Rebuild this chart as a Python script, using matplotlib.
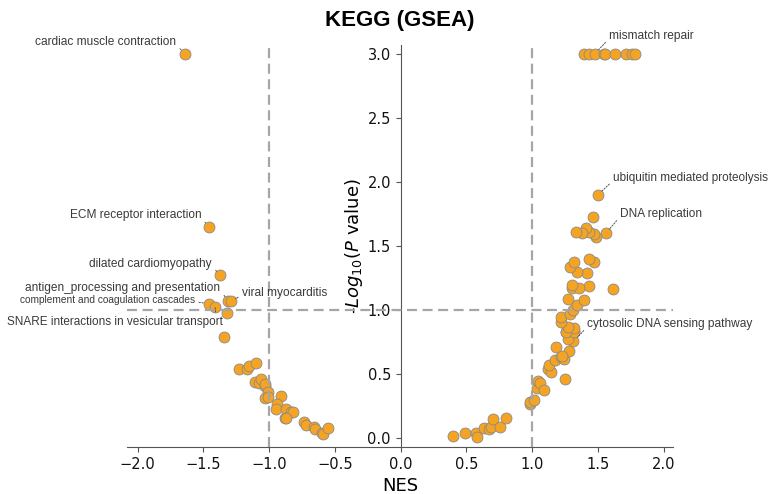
import matplotlib

matplotlib.use("Agg")
import matplotlib.pyplot as plt

# NES / -log10(p), left (negative NES) side first
neg_nes = [-1.64, -1.46, -1.37, -1.31, -1.29, -1.46, -1.41, -1.32, -1.34,
           -1.23, -1.165, -1.15, -1.10, -1.11, -1.08, -1.06, -1.035, -1.03,
           -1.01, -1.03, -1.01, -0.91, -0.94, -0.95, -0.87, -0.83, -0.82,
           -0.88, -0.87, -0.735, -0.72, -0.66, -0.65, -0.60, -0.59, -0.55]
neg_logp = [3.0, 1.65, 1.27, 1.07, 1.07, 1.05, 1.02, 0.98, 0.79,
            0.54, 0.54, 0.56, 0.59, 0.44, 0.43, 0.46, 0.41, 0.42,
            0.36, 0.31, 0.32, 0.33, 0.27, 0.23, 0.23, 0.20, 0.20,
            0.16, 0.16, 0.125, 0.10, 0.09, 0.07, 0.04, 0.03, 0.08]

pos_nes = [0.40, 0.49, 0.57, 0.58, 0.63, 0.67, 0.69, 0.70, 0.755, 0.80,
           0.98, 0.98, 1.015, 1.04, 1.045, 1.06, 1.09, 1.12, 1.145, 1.13,
           1.17, 1.22, 1.24, 1.18, 1.25, 1.28, 1.26, 1.31, 1.32, 1.23,
           1.27, 1.32, 1.26, 1.32, 1.275, 1.215, 1.215, 1.29, 1.31, 1.34,
           1.39, 1.275, 1.615, 1.43, 1.30, 1.355, 1.305, 1.42, 1.34, 1.47,
           1.43, 1.285, 1.315, 1.56, 1.485, 1.47, 1.43, 1.41, 1.38, 1.33,
           1.46, 1.50,
           1.39, 1.43, 1.475, 1.545, 1.55, 1.63, 1.71, 1.76, 1.78]
pos_logp = [0.02, 0.04, 0.04, 0.01, 0.08, 0.07, 0.09, 0.15, 0.09, 0.16,
            0.27, 0.28, 0.30, 0.39, 0.445, 0.43, 0.375, 0.54, 0.52, 0.57,
            0.61, 0.63, 0.615, 0.71, 0.46, 0.68, 0.83, 0.76, 0.84, 0.64,
            0.77, 0.83, 0.83, 0.86, 0.87, 0.905, 0.945, 0.97, 1.00, 1.04,
            1.08, 1.09, 1.165, 1.19, 1.17, 1.17, 1.195, 1.29, 1.30, 1.375,
            1.40, 1.34, 1.375, 1.60, 1.57, 1.59, 1.61, 1.64, 1.60, 1.61,
            1.73, 1.90,
            3.0, 3.0, 3.0, 3.0, 3.0, 3.0, 3.0, 3.0, 3.0]

# labelled pathways: name, point (nes, logp), text anchor (nes, logp)
label_names = ["cardiac muscle contraction", "ECM receptor interaction",
               "dilated cardiomyopathy", "antigen_processing and presentation",
               "viral myocarditis", "complement and coagulation cascades",
               "SNARE interactions in vesicular transport",
               "mismatch repair", "ubiquitin mediated proteolysis",
               "DNA replication", "cytosolic DNA sensing pathway"]
label_points = [(-1.64, 3.0), (-1.46, 1.65), (-1.37, 1.27), (-1.31, 1.07),
                (-1.29, 1.07), (-1.46, 1.05), (-1.41, 1.02),
                (1.475, 3.0), (1.50, 1.90), (1.56, 1.60), (1.32, 0.76)]
label_text_pos = [(-1.705, 3.09), (-1.515, 1.74), (-1.435, 1.36), (-1.37, 1.17),
                  (-1.205, 1.135), (-1.565, 1.08), (-1.355, 0.905),
                  (1.585, 3.14), (1.615, 2.03), (1.67, 1.75), (1.42, 0.89)]
label_ha = ["right", "right", "right", "right", "left", "right", "right",
            "left", "left", "left", "left"]
label_size = [8.6, 8.6, 8.6, 8.6, 8.6, 7.3, 8.5, 8.6, 8.5, 8.6, 8.6]

fig = plt.figure(figsize=(7.7, 4.94), dpi=100)
ax = fig.add_axes([0.165, 0.095, 0.709, 0.814])

dot = dict(s=62, color="#f5a322", edgecolor="#8a8a8a", linewidth=0.6, zorder=3)
ax.scatter(neg_nes, neg_logp, **dot)
ax.scatter(pos_nes, pos_logp, **dot)

line = dict(color="#a6a6a6", linestyle=(0, (4.5, 2.5)), linewidth=1.6, zorder=4)
ax.axvline(-1.0, **line)
ax.axvline(1.0, **line)
ax.axhline(1.0, **line)

for name, (px, py), (tx, ty), ha, fs in zip(label_names, label_points,
                                            label_text_pos, label_ha, label_size):
    rel = (1.0, 0.3) if ha == "right" else (0.0, 0.3)
    if name.startswith("SNARE"):
        rel = (0.97, 1.0)
    ax.annotate(name, xy=(px, py), xytext=(tx, ty), ha=ha, va="center",
                fontsize=fs, family="Liberation Sans", color="#3a3a3a",
                arrowprops=dict(arrowstyle="-", color="#555555", linewidth=0.7,
                                linestyle=(0, (1.5, 1.5)), relpos=rel,
                                shrinkA=1, shrinkB=3.5),
                zorder=5)

ax.set_xlim(-2.08, 2.07)
ax.set_ylim(-0.07, 3.07)
ax.set_xticks([-2.0, -1.5, -1.0, -0.5, 0.0, 0.5, 1.0, 1.5, 2.0])
ax.set_yticks([0.0, 0.5, 1.0, 1.5, 2.0, 2.5, 3.0])
ax.spines["left"].set_position(("data", 0.0))
ax.spines["top"].set_visible(False)
ax.spines["right"].set_visible(False)
for side in ("left", "bottom"):
    ax.spines[side].set_color("#555555")
ax.tick_params(labelsize=10.5, colors="#555555", labelcolor="#111111")

ax.set_xlabel("NES", fontsize=13)
ax.set_ylabel("-$Log_{10}$($P$ value)", fontsize=13, labelpad=2)
ax.set_title("KEGG (GSEA)", fontsize=16, fontweight="bold",
             family="Liberation Sans", pad=14)

fig.savefig("out.png", dpi=100)
